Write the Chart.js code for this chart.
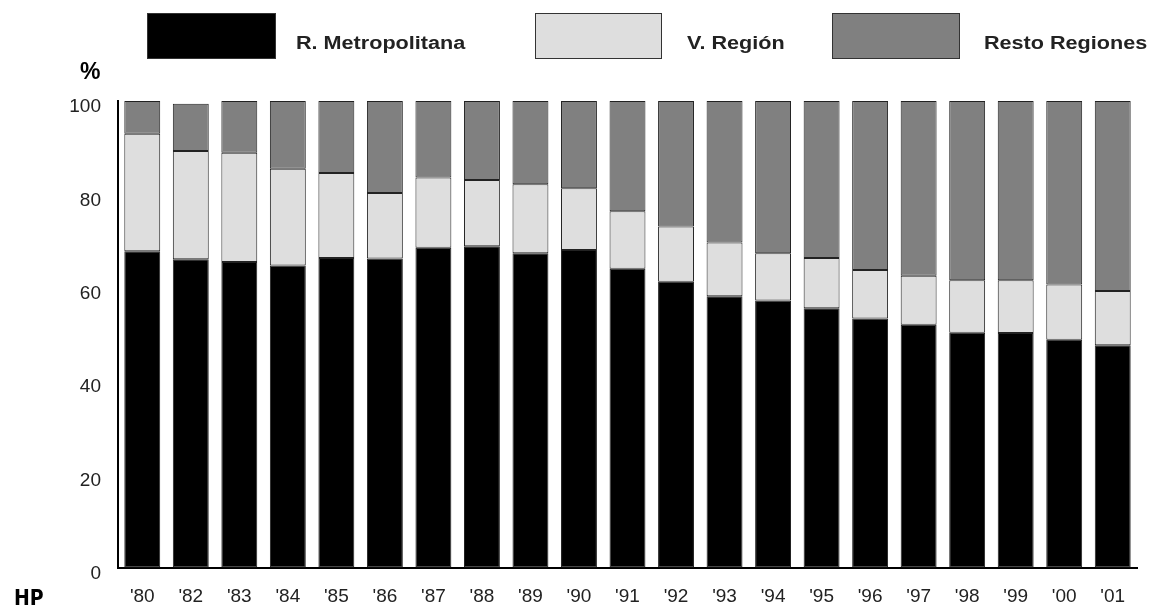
<!DOCTYPE html>
<html>
<head>
<meta charset="utf-8">
<script src="https://cdn.jsdelivr.net/npm/chart.js@4"></script>
<style>
  html, body { margin: 0; padding: 0; background: #fff; }
  #wrap { position: relative; width: 1151px; height: 610px; overflow: hidden; }
  #chart { position: absolute; left: 0; top: 0; }
  .box { position: absolute; top: 13px; height: 46px; border: 1px solid #333; box-sizing: border-box; }
  .lbl { position: absolute; top: 33px; font: bold 18px "Liberation Sans", Arial, sans-serif; color: #222;
         transform: scaleX(1.2); transform-origin: left center; white-space: nowrap; }
  #pct { position: absolute; left: 80px; top: 58px; font: bold 23px "Liberation Sans", Arial, sans-serif; color: #000; }
  #hp { position: absolute; left: 14px; top: 586px; font: bold 21px "DejaVu Sans Condensed", "DejaVu Sans", sans-serif; color: #000; }
</style>
</head>
<body>
<div id="wrap">
  <canvas id="chart" width="1151" height="610"></canvas>
  <div class="box" style="left:147px;width:129px;background:#000"></div>
  <div class="lbl" style="left:296px">R. Metropolitana</div>
  <div class="box" style="left:535px;width:127px;background:#dedede"></div>
  <div class="lbl" style="left:687px">V. Región</div>
  <div class="box" style="left:832px;width:128px;background:#808080"></div>
  <div class="lbl" style="left:984px">Resto Regiones</div>
  <div id="pct">%</div>
  <div id="hp">HP</div>
</div>
<script>
// years on the x axis
const years = ["'80", "'82", "'83", "'84", "'85", "'86", "'87", "'88", "'89", "'90",
               "'91", "'92", "'93", "'94", "'95", "'96", "'97", "'98", "'99", "'00", "'01"];

// share (%) of each zone
const metropolitana = [67.8, 66.1, 65.5, 64.8, 66.4, 66.3, 68.6, 68.9, 67.4, 68.1,
                       64.1, 61.3, 58.2, 57.3, 55.6, 53.4, 52.1, 50.4, 50.3, 48.9, 47.7];
const vRegion = [25.2, 23.2, 23.4, 20.7, 18.2, 14.0, 15.0, 14.2, 14.8, 13.2,
                 12.3, 11.8, 11.5, 10.1, 10.8, 10.4, 10.5, 11.2, 11.3, 11.8, 11.6];
const restoRegiones = [7.0, 10.1, 11.1, 14.5, 15.4, 19.7, 16.4, 16.9, 17.8, 18.7,
                       23.6, 26.9, 30.3, 32.6, 33.6, 36.2, 37.4, 38.4, 38.4, 39.3, 40.7];

const yTicks = [0, 20, 40, 60, 80, 100];

const tickFont = { family: '"Liberation Sans", Arial, sans-serif', size: 19 };

function makeSet(label, data, color) {
    return {
        label: label,
        data: data,
        backgroundColor: color,
        borderColor: '#222',
        borderWidth: 1,
        borderSkipped: false,
        barPercentage: 0.74,
        categoryPercentage: 1.0
    };
}

const ctx = document.getElementById('chart').getContext('2d');
new Chart(ctx, {
    type: 'bar',
    data: {
        labels: years,
        datasets: [
            makeSet('R. Metropolitana', metropolitana, '#000000'),
            makeSet('V. Región', vRegion, '#dedede'),
            makeSet('Resto Regiones', restoRegiones, '#808080')
        ]
    },
    options: {
        responsive: false,
        animation: false,
        layout: { padding: { top: 101, right: 14, left: 0, bottom: 0 } },
        plugins: {
            legend: { display: false },
            tooltip: { enabled: false }
        },
        scales: {
            x: {
                stacked: true,
                grid: { display: true, drawOnChartArea: false, drawTicks: false, color: 'transparent' },
                border: { display: true, color: '#000', width: 2 },
                ticks: { color: '#222', font: tickFont, padding: 17, maxRotation: 0 },
                afterFit: function(scale) { scale.height = 42; }
            },
            y: {
                stacked: true,
                min: 0,
                max: 100,
                grid: { display: true, drawOnChartArea: false, drawTicks: false, color: 'transparent' },
                border: { display: true, color: '#000', width: 2 },
                afterBuildTicks: function(scale) {
                    scale.ticks = yTicks.map(v => ({ value: v }));
                },
                ticks: { color: '#222', font: tickFont, padding: 17, labelOffset: 6 },
                afterFit: function(scale) { scale.width = 118; }
            }
        }
    }
});
</script>
</body>
</html>
